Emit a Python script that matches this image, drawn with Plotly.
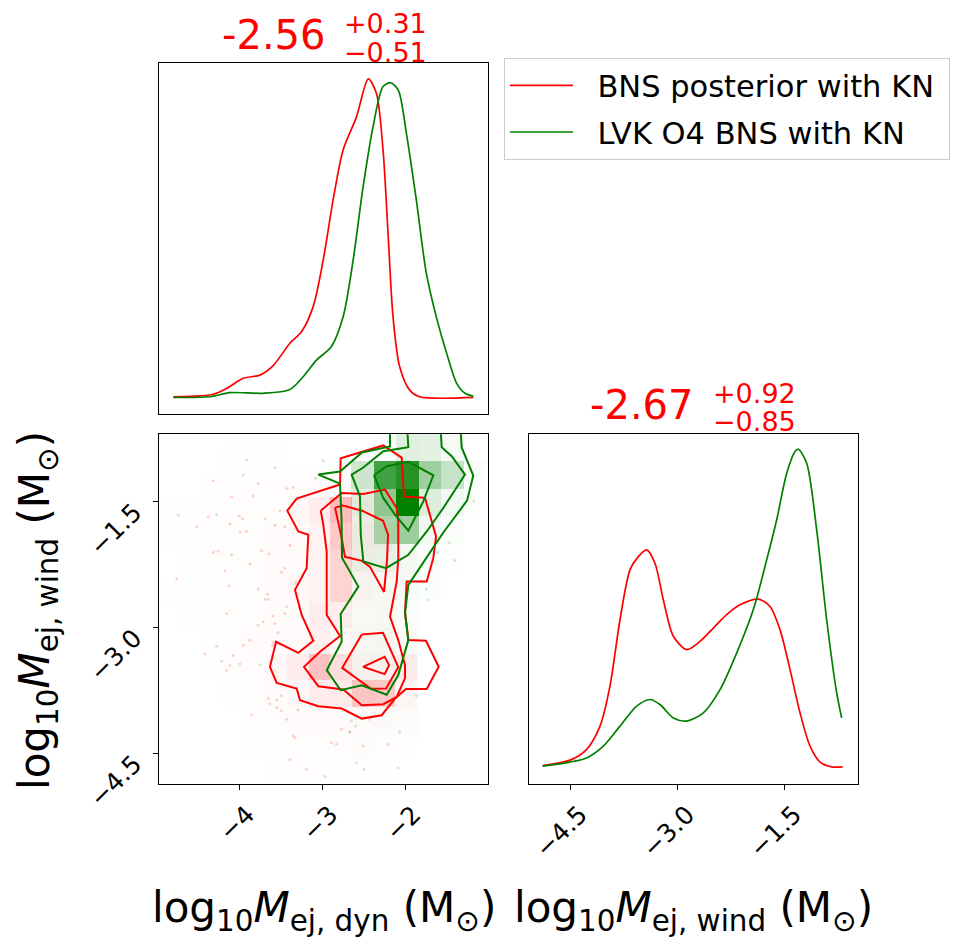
import plotly.graph_objects as go

# ---------------- data ----------------
# 1D marginal of log10 Mej,dyn (normalised density, red peak = 1)
dyn_red_x = [-4.79, -4.47, -4.31, -4.15, -3.95, -3.75, -3.59, -3.39, -3.25, -3.11, -2.99, -2.87,
             -2.75, -2.59, -2.447, -2.35, -2.27, -2.21, -2.15, -2.07, -1.95, -1.83, -1.185]
dyn_red_y = [0.002, 0.005, 0.01, 0.028, 0.06, 0.07, 0.10, 0.17, 0.206, 0.285, 0.43, 0.62,
             0.777, 0.88, 1.0, 0.955, 0.777, 0.515, 0.253, 0.096, 0.023, 0.002, 0.0]
dyn_green_x = [-4.79, -4.35, -4.11, -3.71, -3.39, -3.23, -3.07, -2.89, -2.75, -2.63, -2.51, -2.39,
               -2.27, -2.18, -2.087, -1.99, -1.87, -1.75, -1.63, -1.505, -1.385, -1.285, -1.185]
dyn_green_y = [0.0, 0.002, 0.015, 0.013, 0.025, 0.065, 0.117, 0.16, 0.253, 0.43, 0.66, 0.85,
               0.976, 0.988, 0.965, 0.83, 0.62, 0.39, 0.253, 0.138, 0.044, 0.013, 0.004]

# 1D marginal of log10 Mej,wind (normalised density, green peak = 1)
wind_red_x = [-4.883, -4.50, -4.266, -4.08, -3.94, -3.80, -3.66, -3.543, -3.426, -3.31, -3.193,
              -3.052, -2.866, -2.679, -2.492, -2.306, -2.119, -1.862, -1.699, -1.559, -1.418,
              -1.278, -1.138, -0.998, -0.835, -0.681]
wind_red_y = [0.004, 0.021, 0.055, 0.128, 0.254, 0.463, 0.62, 0.662, 0.683, 0.641, 0.526,
              0.411, 0.369, 0.395, 0.437, 0.479, 0.51, 0.528, 0.505, 0.432, 0.306,
              0.17, 0.065, 0.015, 0.0, 0.0]
wind_green_x = [-4.883, -4.50, -4.266, -4.033, -3.80, -3.566, -3.38, -3.24, -3.052, -2.866, -2.632,
                -2.399, -2.166, -1.932, -1.745, -1.605, -1.465, -1.348, -1.302, -1.185, -1.045,
                -0.905, -0.765, -0.695]
wind_green_y = [0.002, 0.015, 0.028, 0.065, 0.128, 0.191, 0.212, 0.196, 0.154, 0.144, 0.17,
                0.243, 0.358, 0.495, 0.652, 0.778, 0.924, 0.993, 1.0, 0.956, 0.746,
                0.463, 0.233, 0.154]

# 2D histogram (density, 0..1) -- red sample
red_hist_x_edges = [-4.990, -4.730, -4.470, -4.209, -3.949, -3.688, -3.428, -3.168, -2.907,
                    -2.647, -2.386, -2.126, -1.866, -1.605]
red_hist_y_edges = [-4.883, -4.570, -4.257, -3.944, -3.631, -3.318, -3.005, -2.692, -2.379,
                    -2.066, -1.753, -1.440, -1.127, -0.814]
red_hist_z = [
    [0, 0, 0, 0, 0, 0.005, 0.008, 0.008, 0.005, 0.005, 0.005, 0, 0],
    [0, 0, 0, 0, 0.005, 0.008, 0.01, 0.01, 0.01, 0.01, 0.008, 0.005, 0],
    [0, 0, 0, 0, 0.005, 0.01, 0.015, 0.02, 0.02, 0.02, 0.015, 0.01, 0],
    [0, 0, 0, 0.005, 0.01, 0.015, 0.03, 0.07, 0.08, 0.22, 0.20, 0.03, 0],
    [0, 0, 0.005, 0.01, 0.01, 0.03, 0.07, 0.24, 0.12, 0.04, 0.04, 0.07, 0],
    [0, 0, 0.005, 0.01, 0.015, 0.015, 0.02, 0.06, 0.03, 0.02, 0.02, 0.01, 0],
    [0, 0.005, 0.005, 0.01, 0.01, 0.015, 0.02, 0.07, 0.07, 0.02, 0.015, 0.005, 0],
    [0.005, 0.005, 0.005, 0.008, 0.01, 0.015, 0.03, 0.05, 0.17, 0.03, 0.015, 0.005, 0],
    [0, 0.005, 0.01, 0.01, 0.01, 0.015, 0.02, 0.05, 0.17, 0.04, 0.02, 0.01, 0],
    [0.005, 0.008, 0.008, 0.01, 0.01, 0.015, 0.02, 0.05, 0.21, 0.05, 0.03, 0.01, 0],
    [0.005, 0.005, 0.008, 0.01, 0.01, 0.01, 0.03, 0.07, 0.26, 0.04, 0.015, 0.005, 0],
    [0, 0, 0.005, 0.008, 0.008, 0.01, 0.01, 0.015, 0.015, 0.01, 0.005, 0, 0],
    [0, 0, 0, 0.005, 0.005, 0.005, 0, 0, 0, 0, 0, 0, 0],
]

# 2D histogram (density, 0..1) -- green sample
green_hist_x_edges = [-3.459, -3.189, -2.918, -2.648, -2.378, -2.107, -1.837, -1.566, -1.296, -1.026]
green_hist_y_edges = [-4.654, -4.323, -3.992, -3.661, -3.330, -2.999, -2.668, -2.337, -2.006,
                      -1.675, -1.344, -1.013, -0.682]
green_hist_z = [
    [0, 0, 0, 0.005, 0.005, 0.005, 0, 0, 0],
    [0, 0, 0, 0.005, 0.01, 0.01, 0.005, 0, 0],
    [0, 0, 0.005, 0.015, 0.015, 0.01, 0.005, 0, 0],
    [0, 0, 0.01, 0.03, 0.03, 0.02, 0.005, 0, 0],
    [0, 0, 0.005, 0.03, 0.035, 0.02, 0.005, 0, 0],
    [0, 0, 0.005, 0.02, 0.03, 0.02, 0.005, 0, 0],
    [0, 0, 0.005, 0.03, 0.03, 0.03, 0.015, 0.005, 0],
    [0, 0, 0.005, 0.07, 0.09, 0.04, 0.02, 0.01, 0.005],
    [0, 0, 0.005, 0.07, 0.33, 0.38, 0.05, 0.02, 0.005],
    [0, 0, 0.005, 0.11, 0.43, 1.00, 0.14, 0.05, 0.01],
    [0, 0, 0.01, 0.19, 0.74, 0.85, 0.38, 0.22, 0.02],
    [0, 0, 0, 0.005, 0.02, 0.12, 0.11, 0.04, 0.005],
]

# individual samples outside the contours
red_pts_x = [-4.73, -4.51, -4.37, -4.31, -4.25, -4.31, -4.09, -4.11, -4.00, -3.96, -3.99, -3.91,
             -3.87, -4.17, -4.12, -4.75, -3.83, -3.77, -3.69, -3.73, -3.64, -3.57, -3.51, -3.45,
             -3.43, -3.35, -3.45, -3.49, -3.39, -3.32, -3.66, -3.69, -3.77, -4.15, -3.77, -3.71,
             -3.59, -3.57, -3.53, -3.59, -3.60, -3.45, -3.43, -3.27, -4.41, -4.07, -4.11, -3.99,
             -4.15, -3.87, -3.95, -3.85, -3.65, -3.63, -3.49, -3.55, -3.35, -3.33, -2.89, -2.83,
             -3.19, -2.97, -2.77, -2.67, -2.43, -2.21, -2.59, -2.51, -3.39, -3.43]
red_pts_y = [-1.66, -1.80, -1.68, -2.10, -2.09, -1.25, -1.44, -1.76, -1.67, -1.70, -1.86, -1.85,
             -2.24, -2.32, -2.50, -2.42, -1.43, -1.28, -1.70, -2.08, -2.12, -1.78, -1.61, -1.80,
             -1.34, -1.33, -2.29, -2.34, -2.02, -2.46, -2.60, -2.66, -2.54, -2.83, -2.97, -2.93,
             -2.86, -2.95, -3.06, -3.17, -3.21, -2.83, -2.75, -2.77, -3.31, -3.33, -3.45, -3.43,
             -3.51, -3.15, -3.21, -4.04, -3.84, -3.91, -3.99, -3.95, -4.29, -4.31, -4.37, -4.39,
             -4.69, -4.77, -4.21, -4.25, -4.09, -4.39, -4.61, -4.41, -4.57, -4.09]
green_pts_x = [-3.91, -3.57, -2.99, -3.08, -3.95, -4.27, -4.09, -3.65, -4.27, -4.21, -3.75, -3.49,
               -3.29, -3.55, -2.67, -2.60, -2.50, -2.09, -2.07, -1.87, -1.75, -1.73, -1.47, -1.41,
               -1.18, -1.61, -2.65]
green_pts_y = [-1.00, -1.09, -1.01, -1.22, -1.18, -1.65, -2.13, -2.66, -3.22, -3.40, -3.44, -3.81,
               -3.98, -3.86, -4.24, -4.17, -4.69, -4.67, -4.24, -3.81, -2.54, -2.67, -1.99, -2.20,
               -1.49, -2.10, -4.11]

# contour lines (x = log10 Mej,dyn, y = log10 Mej,wind)
red_c86_x = [-2.787, -2.779, -2.267, -2.046, -2.018, -1.766, -1.633, -1.666, -1.745, -1.986, -2.006,
             -1.966, -1.754, -1.601, -1.745, -1.994, -2.126, -2.286, -2.526, -2.767, -3.048, -3.268,
             -3.308, -3.548, -3.629, -3.556, -3.288, -3.108, -3.248, -3.328, -3.188, -3.168, -3.288,
             -3.421, -3.308, -3.028, -2.787]
red_c86_y = [-1.294, -0.980, -0.828, -0.972, -1.438, -1.450, -1.912, -2.171, -2.450, -2.450, -2.809,
             -3.147, -3.155, -3.466, -3.729, -3.729, -3.844, -4.043, -4.083, -3.963, -3.936, -3.864,
             -3.724, -3.657, -3.466, -3.167, -3.299, -3.155, -2.848, -2.549, -2.290, -1.892, -1.853,
             -1.605, -1.462, -1.375, -1.294]
red_c68_x = [-3.019, -2.767, -2.507, -2.246, -2.106, -2.087, -2.087, -2.106, -2.186, -2.087, -2.006,
             -2.006, -2.106, -2.267, -2.526, -2.748, -3.048, -3.220, -3.028, -2.787, -2.947, -2.947,
             -2.988, -3.019]
red_c68_y = [-1.605, -1.394, -1.406, -1.354, -1.573, -1.733, -2.171, -2.450, -2.869, -3.147, -3.446,
             -3.601, -3.825, -3.912, -3.924, -3.736, -3.697, -3.466, -3.287, -3.099, -2.848, -2.092,
             -1.773, -1.605]
red_c39a_x = [-2.847, -2.775, -2.727, -2.523, -2.427, -2.258, -2.222, -2.210, -2.270, -2.523, -2.751, -2.847]
red_c39a_y = [-1.569, -1.892, -2.155, -2.203, -2.275, -2.573, -2.191, -1.892, -1.725, -1.605, -1.545, -1.569]
red_c39b_x = [-2.526, -2.270, -2.087, -2.234, -2.415, -2.761, -2.526]
red_c39b_y = [-3.081, -3.060, -3.470, -3.724, -3.727, -3.479, -3.081]
red_c12_x = [-2.511, -2.250, -2.198, -2.250, -2.511]
red_c12_y = [-3.466, -3.347, -3.446, -3.553, -3.466]

green_c86_x = [-2.186, -2.186, -2.523, -2.787, -3.048, -2.787, -2.769, -2.763, -2.567, -2.779, -2.767,
               -2.947, -2.779, -2.526, -2.226, -2.087, -1.966, -2.006, -1.966, -1.745, -1.546, -1.261,
               -1.185, -1.325, -1.345]
green_c86_y = [-0.518, -0.840, -0.912, -1.139, -1.175, -1.282, -1.713, -2.167, -2.510, -2.836, -3.167,
               -3.506, -3.745, -3.685, -3.798, -3.565, -3.147, -2.828, -2.490, -2.167, -1.865, -1.486,
               -1.187, -0.852, -0.518]
green_c68_x = [-1.986, -1.966, -2.267, -2.507, -2.647, -2.547, -2.538, -2.507, -2.234, -1.966, -1.745,
               -1.546, -1.285, -1.445, -1.565, -1.585]
green_c68_y = [-0.518, -0.849, -0.896, -1.091, -1.175, -1.434, -1.892, -2.211, -2.290, -2.131, -1.853,
               -1.573, -1.175, -0.956, -0.849, -0.518]
green_c39_x = [-2.379, -2.226, -1.966, -1.666, -1.786, -1.966, -2.126, -2.267, -2.379]
green_c39_y = [-1.183, -1.076, -1.023, -1.183, -1.494, -1.844, -1.653, -1.453, -1.183]

# tick values / labels and texts
dyn_ticks = [-4, -3, -2]
dyn_ticktext = ["\u22124", "\u22123", "\u22122"]
wind_ticks = [-4.5, -3.0, -1.5]
wind_ticktext = ["\u22124.5", "\u22123.0", "\u22121.5"]
series_names = ["\u00a0\u00a0BNS posterior with KN\u00a0", "\u00a0\u00a0LVK O4 BNS with KN"]
dyn_title = ["-2.56", "+0.31", "\u22120.51"]
wind_title = ["-2.67", "+0.92", "\u22120.85"]
label_dyn = "log<sub>10</sub><i>M</i><sub>ej, dyn</sub> (M<sub>\u2299</sub>)"
label_wind = "log<sub>10</sub><i>M</i><sub>ej, wind</sub> (M<sub>\u2299</sub>)"

# ---------------- figure ----------------
W, H = 958, 949
FONT = "DejaVu Sans"
RED = "#ff0000"
GREEN = "#008000"


def px_x(p):
    return p / W


def px_y(p):
    return 1 - p / H


fig = go.Figure()

# 2D density
fig.add_trace(go.Heatmap(x=red_hist_x_edges, y=red_hist_y_edges, z=red_hist_z,
                         colorscale=[[0, "rgba(255,0,0,0)"], [1, "rgba(255,0,0,1)"]],
                         zmin=0, zmax=1, showscale=False, hoverinfo="skip",
                         xaxis="x2", yaxis="y2"))
fig.add_trace(go.Heatmap(x=green_hist_x_edges, y=green_hist_y_edges, z=green_hist_z,
                         colorscale=[[0, "rgba(0,128,0,0)"], [1, "rgba(0,128,0,1)"]],
                         zmin=0, zmax=1, showscale=False, hoverinfo="skip",
                         xaxis="x2", yaxis="y2"))

# samples
fig.add_trace(go.Scatter(x=red_pts_x, y=red_pts_y, mode="markers",
                         marker=dict(size=3, color="rgba(255,0,0,0.18)"),
                         showlegend=False, hoverinfo="skip", xaxis="x2", yaxis="y2"))
fig.add_trace(go.Scatter(x=green_pts_x, y=green_pts_y, mode="markers",
                         marker=dict(size=3, color="rgba(0,128,0,0.18)"),
                         showlegend=False, hoverinfo="skip", xaxis="x2", yaxis="y2"))

# contours
for cx, cy in [(red_c86_x, red_c86_y), (red_c68_x, red_c68_y), (red_c39a_x, red_c39a_y),
               (red_c39b_x, red_c39b_y), (red_c12_x, red_c12_y)]:
    fig.add_trace(go.Scatter(x=cx, y=cy, mode="lines", line=dict(color=RED, width=2),
                             showlegend=False, hoverinfo="skip", xaxis="x2", yaxis="y2"))
for cx, cy in [(green_c86_x, green_c86_y), (green_c68_x, green_c68_y), (green_c39_x, green_c39_y)]:
    fig.add_trace(go.Scatter(x=cx, y=cy, mode="lines", line=dict(color=GREEN, width=2),
                             showlegend=False, hoverinfo="skip", xaxis="x2", yaxis="y2"))

# 1D marginals
fig.add_trace(go.Scatter(x=dyn_red_x, y=dyn_red_y, mode="lines", name=series_names[0],
                         line=dict(color=RED, width=1.7, shape="spline", smoothing=0.8),
                         legendgroup="a", xaxis="x", yaxis="y"))
fig.add_trace(go.Scatter(x=dyn_green_x, y=dyn_green_y, mode="lines", name=series_names[1],
                         line=dict(color=GREEN, width=1.7, shape="spline", smoothing=0.8),
                         legendgroup="b", xaxis="x", yaxis="y"))
fig.add_trace(go.Scatter(x=wind_red_x, y=wind_red_y, mode="lines", showlegend=False,
                         line=dict(color=RED, width=1.7, shape="spline", smoothing=0.8),
                         xaxis="x3", yaxis="y3"))
fig.add_trace(go.Scatter(x=wind_green_x, y=wind_green_y, mode="lines", showlegend=False,
                         line=dict(color=GREEN, width=1.7, shape="spline", smoothing=0.8),
                         xaxis="x3", yaxis="y3"))

frame = dict(showline=True, mirror=True, linecolor="black", linewidth=1,
             showgrid=False, zeroline=False, automargin=False)
tickstyle = dict(ticks="outside", ticklen=5, tickwidth=1, tickcolor="black",
                 tickangle=-45, tickfont=dict(family=FONT, size=25, color="black"))

col1 = [px_x(159.3), px_x(488.3)]
col2 = [px_x(529.3), px_x(857.7)]
row1 = [px_y(414.3), px_y(63.3)]
row2 = [px_y(783.8), px_y(434.3)]

fig.update_layout(
    width=W, height=H, margin=dict(l=0, r=0, t=0, b=0, autoexpand=False),
    paper_bgcolor="white", plot_bgcolor="white",
    xaxis=dict(domain=col1, anchor="y", range=[-4.959, -1.005], showticklabels=False,
               ticks="", **frame),
    yaxis=dict(domain=row1, anchor="x", range=[-0.053, 1.049], showticklabels=False,
               ticks="", **frame),
    xaxis2=dict(domain=col1, anchor="y2", range=[-4.959, -1.005], tickvals=dyn_ticks,
                ticktext=dyn_ticktext, ticklabelshift=8, **tickstyle, **frame),
    yaxis2=dict(domain=row2, anchor="x2", range=[-4.86, -0.695], tickvals=wind_ticks,
                ticktext=wind_ticktext, ticklabelshift=7, ticklabelstandoff=14,
                **tickstyle, **frame),
    xaxis3=dict(domain=col2, anchor="y3", range=[-5.07, -0.4706], tickvals=wind_ticks,
                ticktext=wind_ticktext, ticklabelshift=10, **tickstyle, **frame),
    yaxis3=dict(domain=row2, anchor="x3", range=[-0.0535, 1.047], showticklabels=False,
                ticks="", **frame),
    legend=dict(x=px_x(504), y=px_y(58), xanchor="left", yanchor="top",
                font=dict(family=FONT, size=30.5, color="black"),
                bgcolor="white", bordercolor="#cccccc", borderwidth=1,
                itemwidth=63, traceorder="grouped", tracegroupgap=4),
    showlegend=True,
)

ann = []
ann.append(dict(text=dyn_title[0], x=px_x(273.5), y=px_y(35), font=dict(size=40)))
ann.append(dict(text=dyn_title[1], x=px_x(385.5), y=px_y(23.5), font=dict(size=27)))
ann.append(dict(text=dyn_title[2], x=px_x(385.5), y=px_y(52), font=dict(size=27)))
ann.append(dict(text=wind_title[0], x=px_x(641.5), y=px_y(405), font=dict(size=40)))
ann.append(dict(text=wind_title[1], x=px_x(754.7), y=px_y(393), font=dict(size=27)))
ann.append(dict(text=wind_title[2], x=px_x(754.7), y=px_y(421.7), font=dict(size=27)))
for a in ann:
    a["font"].update(family=FONT, color=RED)

labels = [
    dict(text=label_dyn, x=px_x(323.7), y=px_y(910), textangle=0),
    dict(text=label_wind, x=px_x(693.5), y=px_y(910), textangle=0),
    dict(text=label_wind, x=px_x(37), y=px_y(611), textangle=-90),
]
for l in labels:
    l["font"] = dict(family=FONT, size=42, color="black")
    ann.append(l)

for a in ann:
    a.update(xref="paper", yref="paper", showarrow=False, xanchor="center", yanchor="middle")

fig.update_layout(annotations=ann)
fig.write_html("out.html", config={"displayModeBar": False},
               post_script="document.body.style.margin='0px';"
                           "document.body.style.overflow='hidden';")
